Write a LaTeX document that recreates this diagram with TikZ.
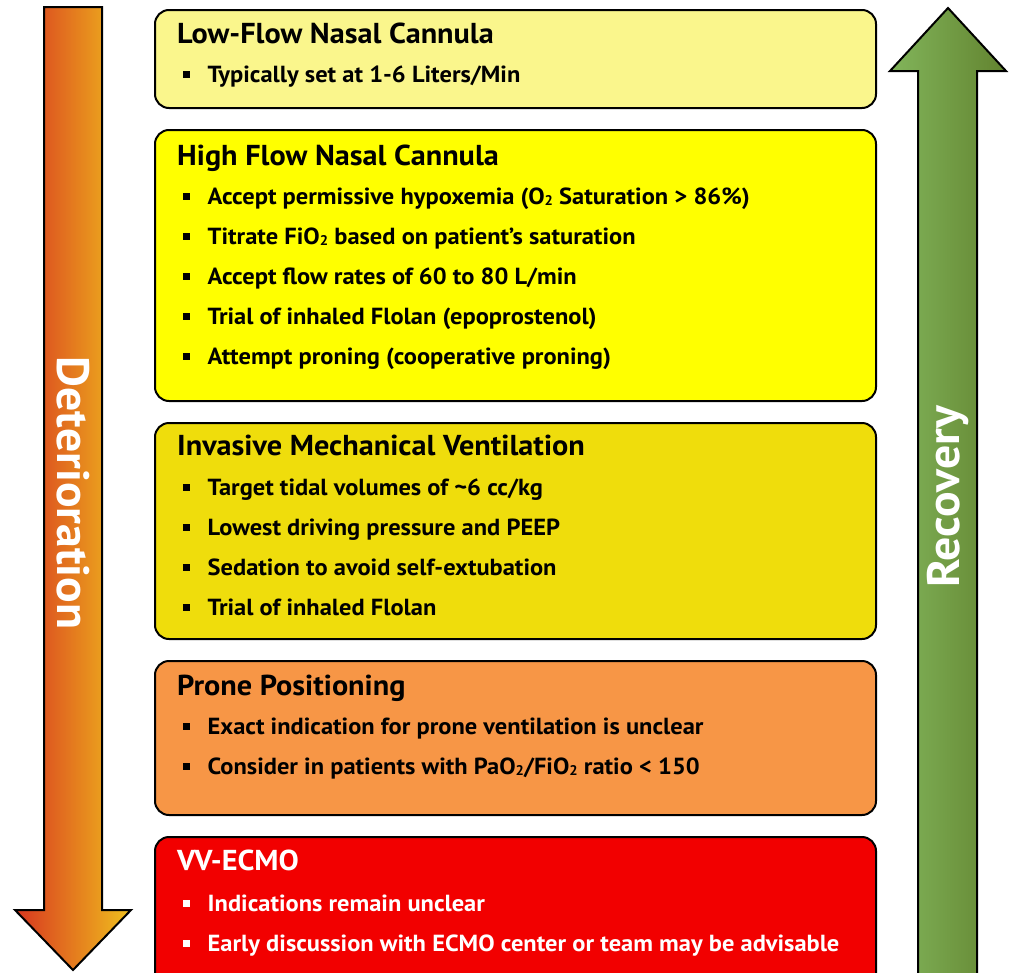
\documentclass[tikz,border=0pt]{standalone}
\usepackage{fontspec}
\setmainfont{PT Sans}[FakeStretch=1.05]
\usetikzlibrary{positioning}

\definecolor{lowflow}{HTML}{FAF68C}
\definecolor{highflow}{HTML}{FFFF00}
\definecolor{invasive}{HTML}{EFDD0C}
\definecolor{prone}{HTML}{F79646}
\definecolor{ecmo}{HTML}{F20000}
\definecolor{detleft}{HTML}{D8361F}
\definecolor{detright}{HTML}{F0C01E}
\definecolor{recleft}{HTML}{82B55B}
\definecolor{recright}{HTML}{62832F}

\newcommand\subtwo{\raisebox{-1pt}{\fontsize{14}{14}\selectfont 2}}
\newcommand\bsq{\rule[4.5pt]{6.5pt}{6.5pt}\hspace{18pt}}

\tikzset{
	stage/.style={draw=black, line width=2pt, rounded corners=14pt, anchor=north west, inner sep=0pt},
	head/.style={anchor=base west, inner sep=0pt, font=\bfseries\fontsize{28.8}{32}\selectfont},
	item/.style={anchor=base west, inner sep=0pt, font=\bfseries\fontsize{23.3}{26}\selectfont},
	bigarrow/.style={draw=black, line width=2pt, line join=miter},
	arrowtext/.style={white, inner sep=0pt, font=\bfseries\fontsize{45.5}{48}\selectfont}
}

\begin{document}
\begin{tikzpicture}[x=1pt, y=-1pt]
	
	\clip (0,0) rectangle (1009,972);
	
	\draw[bigarrow, left color=detleft, right color=detright] (44,7) -- (102,7) -- (102,910) -- (131,910) -- (73,970) -- (15,910) -- (44,910) -- cycle;
	\node[arrowtext, rotate=-90] (deterioration) at (73,493) {Deterioration};
	
	\draw[bigarrow, left color=recleft, right color=recright] (918,990) -- (918,71) -- (890,71) -- (948,8) -- (1006,71) -- (977,71) -- (977,990) -- cycle;
	\node[arrowtext, rotate=90] (recovery) at (948,497) {Recovery};
	
	\node[stage, fill=lowflow, minimum width=721pt, minimum height=98pt] (lowbox) at (154,9) {};
	\node[head] (lowhead) at (177,43) {Low-Flow Nasal Cannula};
	\node[item] (low1) at (183,82) {\bsq Typically set at 1-6 Liters/Min};
	
	\node[stage, fill=highflow, minimum width=721pt, minimum height=271pt] (highbox) at (154,129) {};
	\node[head] (highhead) at (177,165) {High Flow Nasal Cannula};
	\node[item] (high1) at (183,204) {\bsq Accept permissive hypoxemia (O\subtwo{} Saturation > 86\%)};
	\node[item] (high2) at (183,244) {\bsq Titrate FiO\subtwo{} based on patient’s saturation};
	\node[item] (high3) at (183,284) {\bsq Accept flow rates of 60 to 80 L/min};
	\node[item] (high4) at (183,324) {\bsq Trial of inhaled Flolan (epoprostenol)};
	\node[item] (high5) at (183,364) {\bsq Attempt proning (cooperative proning)};
	
	\node[stage, fill=invasive, minimum width=721pt, minimum height=216pt] (invbox) at (154,422) {};
	\node[head] (invhead) at (177,455) {Invasive Mechanical Ventilation};
	\node[item] (inv1) at (183,495) {\bsq Target tidal volumes of \textasciitilde 6 cc/kg};
	\node[item] (inv2) at (183,535) {\bsq Lowest driving pressure and PEEP};
	\node[item] (inv3) at (183,575) {\bsq Sedation to avoid self-extubation};
	\node[item] (inv4) at (183,615) {\bsq Trial of inhaled Flolan};
	
	\node[stage, fill=prone, minimum width=721pt, minimum height=154pt] (pronebox) at (154,660) {};
	\node[head] (pronehead) at (177,695) {Prone Positioning};
	\node[item] (prone1) at (183,734) {\bsq Exact indication for prone ventilation is unclear};
	\node[item] (prone2) at (183,774) {\bsq Consider in patients with PaO\subtwo/FiO\subtwo{} ratio < 150};
	
	\node[stage, fill=ecmo, minimum width=721pt, minimum height=160pt] (ecmobox) at (154,836) {};
	\node[head, white] (ecmohead) at (177,870) {VV-ECMO};
	\node[item, white] (ecmo1) at (183,911) {\bsq Indications remain unclear};
	\node[item, white] (ecmo2) at (183,951) {\bsq Early discussion with ECMO center or team may be advisable};
	
\end{tikzpicture}
\end{document}
